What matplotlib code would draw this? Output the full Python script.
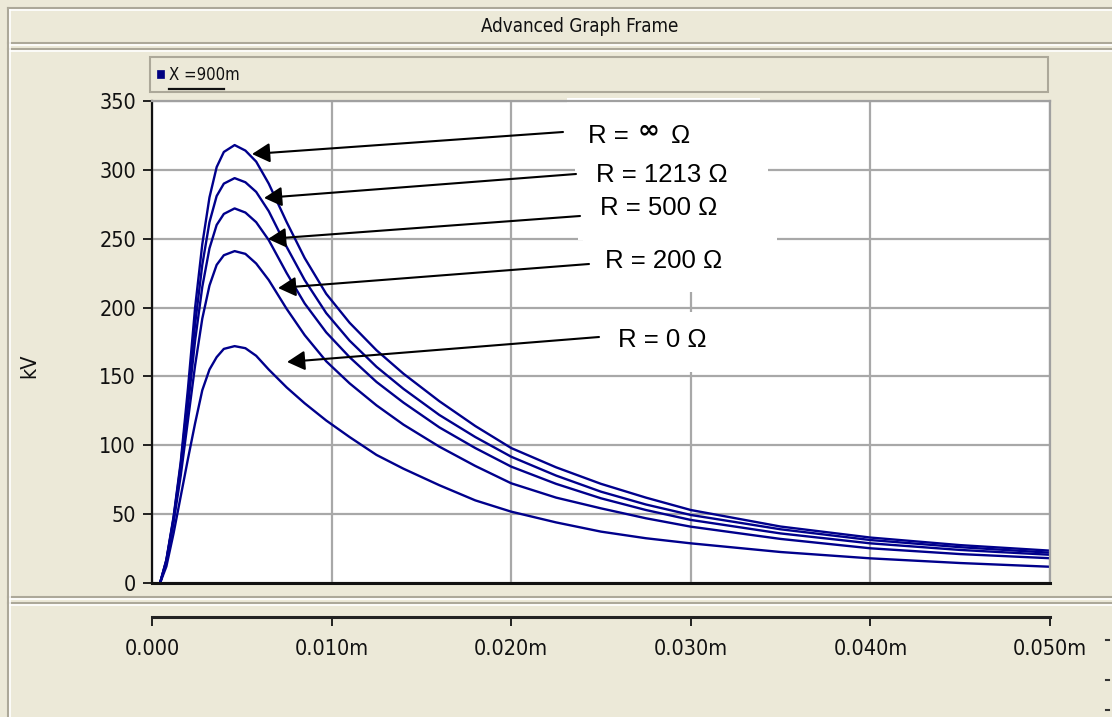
import matplotlib
matplotlib.use("Agg")
import matplotlib.pyplot as plt
from matplotlib.patches import Rectangle
from matplotlib.lines import Line2D

# ---------------------------------------------------------------- data
time_s = [0.00045, 0.0008, 0.0012, 0.0016, 0.0020, 0.0024, 0.0028, 0.0032,
          0.0036, 0.0040, 0.0046, 0.0052, 0.0058, 0.0065, 0.0075, 0.0085,
          0.0097, 0.0110, 0.0125, 0.0140, 0.0160, 0.0180, 0.0200, 0.0225,
          0.0250, 0.0275, 0.0300, 0.0350, 0.0400, 0.0450, 0.0500]

kv_r_inf = [0, 17, 48, 88, 141, 200, 246, 280, 302, 313, 318, 314, 306, 290,
            262, 236, 210, 189, 169, 152, 132, 114, 98, 84, 72, 62, 53, 41,
            33, 27.5, 23.5]
kv_r_1213 = [0, 16.5, 47, 86, 135, 188, 231, 262, 281, 290, 294, 291, 284,
             270, 244, 220, 196, 176, 157, 141, 122, 106, 91.7, 78, 66.3, 57,
             49.4, 39, 31.2, 26, 22]
kv_r_500 = [0, 16, 46, 83, 128, 176, 215, 243, 260, 268, 272, 269, 262, 249,
            225, 203, 182, 164, 146, 131, 113, 98, 84.5, 72, 61.5, 53, 45.8,
            36, 28.8, 24, 20.5]
kv_r_200 = [0, 15, 44, 78, 118, 158, 192, 216, 231, 238, 241, 239, 232, 220,
            199, 180, 161, 145, 129, 115, 99, 85, 72.4, 62, 54.2, 47, 40.9,
            32, 25.2, 21, 18]
kv_r_0 = [0, 12, 36, 63, 90, 116, 140, 155, 164, 170, 172, 170.5, 165, 155,
          142, 130.5, 118, 106, 93, 83, 71, 60, 51.8, 44, 37.3, 32.5, 28.8,
          22.5, 17.9, 14.5, 11.8]

series = [kv_r_inf, kv_r_1213, kv_r_500, kv_r_200, kv_r_0]

y_ticks = [0, 50, 100, 150, 200, 250, 300, 350]
x_ticks = [0.0, 0.01, 0.02, 0.03, 0.04, 0.05]
x_tick_labels = ["0.000", "0.010m", "0.020m", "0.030m", "0.040m", "0.050m"]

# ---------------------------------------------------------------- style
W, H = 1112, 717
BG = "#ECE9D8"
EDGE = "#ACA899"
GRID = "#A8A8A8"
TRACE = "#00008C"
UI_FONT = dict(family="DejaVu Sans", fontstretch="condensed")


def fx(px):
    return px / W


def fy(py):
    return 1 - py / H


fig = plt.figure(figsize=(W / 100, H / 100), dpi=100, facecolor=BG)


def hline(x0, x1, y, color, lw=1.0):
    fig.add_artist(Line2D([fx(x0), fx(x1)], [fy(y), fy(y)], color=color,
                          lw=lw, transform=fig.transFigure))


def vline(x, y0, y1, color, lw=1.0):
    fig.add_artist(Line2D([fx(x), fx(x)], [fy(y0), fy(y1)], color=color,
                          lw=lw, transform=fig.transFigure))


# window frames: title bar, graph panel, axis panel
hline(8, W, 8, EDGE, 1.5)
hline(8, W, 10, "white", 1.2)
hline(8, W, 43, EDGE, 1.5)
hline(8, W, 45, "white", 1.2)
hline(8, W, 49, EDGE, 1.5)
hline(8, W, 51, "white", 1.2)
hline(8, W, 597, EDGE, 1.5)
hline(8, W, 599, "white", 1.2)
hline(8, W, 603, EDGE, 1.5)
hline(8, W, 605, "white", 1.2)
vline(8, 8, 717, EDGE, 1.5)
vline(10, 10, 717, "white", 1.2)

fig.text(fx(580), fy(27), "Advanced Graph Frame", ha="center", va="center",
         fontsize=13.5, color="#111111", **UI_FONT)

# legend strip
fig.add_artist(Rectangle((fx(150), fy(92)), fx(1048) - fx(150),
                         fy(57) - fy(92), transform=fig.transFigure,
                         facecolor=BG, edgecolor=EDGE, lw=1.5))
fig.add_artist(Rectangle((fx(157), fy(78)), fx(164) - fx(157),
                         fy(70) - fy(78), transform=fig.transFigure,
                         facecolor="#000080", edgecolor="#000080", lw=0.5))
fig.text(fx(169), fy(75), "X =900m", ha="left", va="center",
         fontsize=12, color="#111111", **UI_FONT)
hline(169, 224, 89, "#111111", 1.6)

# small marks at the right edge of the axis panel
for mark_y in (640, 680, 710):
    hline(1106, 1109, mark_y, "#333333", 1.5)

# ---------------------------------------------------------------- plot area
ax = fig.add_axes([fx(152), fy(583), fx(1050) - fx(152), fy(101) - fy(583)])
ax.set_facecolor("white")
ax.set_axisbelow(True)
ax.grid(True, color=GRID, lw=1.6)

for vals in series:
    ax.plot(time_s, vals, color=TRACE, lw=1.7, zorder=2,
            solid_joinstyle="round")

ax.set_xlim(x_ticks[0], x_ticks[-1])
ax.set_ylim(y_ticks[0], y_ticks[-1])
ax.set_xticks(x_ticks)
ax.set_yticks(y_ticks)
ax.tick_params(axis="x", length=0, labelbottom=False)
ax.tick_params(axis="y", direction="out", length=6.5, width=1.3, pad=5,
               labelsize=15.5, colors="#111111")
for lbl in ax.get_yticklabels():
    lbl.set_fontfamily(UI_FONT["family"])
    lbl.set_fontstretch(UI_FONT["fontstretch"])

fig.text(fx(29), fy(366), "kV", rotation=90, ha="center", va="center",
         fontsize=15.5, color="#111111", **UI_FONT)

ax.spines["left"].set_color("#111111")
ax.spines["left"].set_linewidth(1.6)
ax.spines["bottom"].set_color("#111111")
ax.spines["bottom"].set_linewidth(2.2)
for side in ("top", "right"):
    ax.spines[side].set_color("#A0A0A0")
    ax.spines[side].set_linewidth(1.6)

# white callout panels behind the resistance labels
callout_boxes = [(567, 98, 760, 158), (575, 158, 768, 190),
                 (578, 190, 777, 240), (583, 240, 777, 292),
                 (598, 312, 795, 372)]
for x0, y0, x1, y1 in callout_boxes:
    ax.add_patch(Rectangle((fx(x0), fy(y1)), fx(x1) - fx(x0), fy(y0) - fy(y1),
                           transform=fig.transFigure, facecolor="white",
                           edgecolor="none", zorder=2.5, clip_on=False))

# labels with arrows to each trace
label_font = dict(family="Liberation Sans", fontsize=18.5, color="black")
arrow_props = dict(arrowstyle="-|>,head_length=0.4,head_width=0.22",
                   mutation_scale=27, color="black", lw=1.5,
                   shrinkA=0, shrinkB=0)

# (text, text left px, baseline px, tail px, tip time, tip kV)
callouts = [
    (None, 588, 143, (563, 132), 0.00557, 311.5),
    ("R = 1213 Ω", 596, 182, (576, 174), 0.00624, 279.6),
    ("R = 500 Ω", 600, 215, (580, 216), 0.00646, 249.8),
    ("R = 200 Ω", 605, 268, (589, 264), 0.00702, 214.2),
    ("R = 0 Ω", 618, 347, (599, 337), 0.00752, 160.5),
]
for text, lx, base, (tx, ty), tip_t, tip_v in callouts:
    ax.annotate("", xy=(tip_t, tip_v), xycoords="data",
                xytext=(fx(tx), fy(ty)), textcoords="figure fraction",
                arrowprops=arrow_props, zorder=4, annotation_clip=False)
    if text is not None:
        fig.text(fx(lx), fy(base), text, ha="left", va="baseline",
                 zorder=5, **label_font)

# infinity label: the symbol sits raised between "R =" and "Ω"
fig.text(fx(588), fy(143), "R =", ha="left", va="baseline", zorder=5,
         **label_font)
fig.text(fx(649), fy(130), "∞", ha="center", va="center", zorder=5,
         family="DejaVu Sans", fontsize=19, fontweight="bold", color="black")
fig.text(fx(671), fy(143), "Ω", ha="left", va="baseline", zorder=5,
         **label_font)

# ---------------------------------------------------------------- time axis
ax_t = fig.add_axes([fx(152), fy(617), fx(1050) - fx(152), 0.001])
ax_t.patch.set_visible(False)
ax_t.set_xlim(x_ticks[0], x_ticks[-1])
ax_t.set_xticks(x_ticks)
ax_t.set_xticklabels(x_tick_labels)
ax_t.set_yticks([])
for side in ("top", "left", "right"):
    ax_t.spines[side].set_visible(False)
ax_t.spines["bottom"].set_color("#222222")
ax_t.spines["bottom"].set_linewidth(2.2)
ax_t.tick_params(axis="x", direction="out", length=6.5, width=1.3, pad=9,
                 labelsize=15.5, colors="#111111")
for lbl in ax_t.get_xticklabels():
    lbl.set_fontfamily(UI_FONT["family"])
    lbl.set_fontstretch(UI_FONT["fontstretch"])

fig.savefig("out.png", dpi=100, facecolor=BG)
